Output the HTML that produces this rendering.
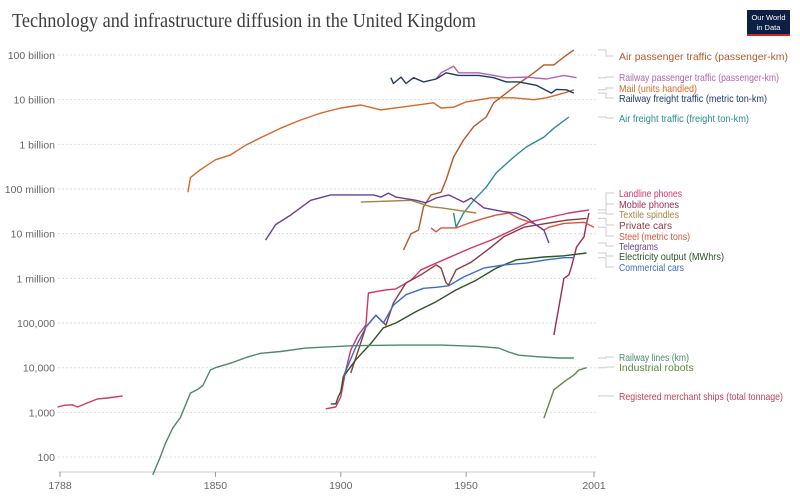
<!DOCTYPE html>
<html><head><meta charset="utf-8"><style>
body{margin:0;background:#fff;}
svg{display:block;font-family:"Liberation Sans",sans-serif;}
</style></head><body>
<svg id="chart" width="800" height="499" xmlns="http://www.w3.org/2000/svg">
<text x="12" y="27" font-family="Liberation Serif,serif" font-size="19.5" fill="#3d3d3d" textLength="464" lengthAdjust="spacingAndGlyphs">Technology and infrastructure diffusion in the United Kingdom</text>
<g><rect x="747" y="10" width="43" height="24" fill="#0c2046"/><rect x="747" y="34" width="43" height="2" fill="#ce261e"/>
<text x="768.5" y="20" font-size="7.5" fill="#fff" text-anchor="middle">Our World</text><text x="768.5" y="30" font-size="7.5" fill="#fff" text-anchor="middle">in Data</text></g>
<g id="grid"></g><g id="series"></g><g id="labels"></g>
</svg>
<script>
const yTickValues=[1e11,1e10,1e9,1e8,1e7,1e6,1e5,1e4,1e3,1e2];
const yTickLabels=["100 billion","10 billion","1 billion","100 million","10 million","1 million","100,000","10,000","1,000","100"];
const xTickYears=[1788,1850,1900,1950,2001];

const airPassYears=[1925,1928,1931,1933,1936,1940,1942,1945,1949,1953,1958,1961,1966,1971,1977,1981,1985,1989,1993];
const airPassValues=[4.3e6,1e7,1.2e7,4e7,7.4e7,8.5e7,1.6e8,5.2e8,1.26e9,2.5e9,4.1e9,8.5e9,1.4e10,2.3e10,4e10,6e10,6e10,9e10,1.3e11];
const railPassYears=[1938,1940,1945,1947,1955,1966,1974,1982,1989,1994];
const railPassValues=[2.9e10,4e10,5.6e10,4e10,4e10,3.1e10,3.2e10,2.9e10,3.5e10,3.1e10];
const mailYears=[1839,1840,1844,1850,1856,1862,1868,1876,1884,1892,1900,1908,1916,1926,1937,1940,1945,1950,1960,1969,1977,1982,1989,1993];
const mailValues=[8.5e7,1.8e8,2.7e8,4.5e8,5.8e8,9.5e8,1.4e9,2.3e9,3.5e9,5e9,6.5e9,7.6e9,5.9e9,7e9,8.5e9,6.5e9,6.8e9,8.9e9,1.1e10,1.1e10,1e10,1.1e10,1.4e10,1.66e10];
const railFreightYears=[1920,1921,1924,1926,1929,1933,1938,1942,1947,1955,1961,1966,1971,1978,1984,1986,1990,1993];
const railFreightValues=[3.1e10,2.3e10,3.2e10,2.3e10,3.1e10,2.5e10,2.9e10,4e10,3.5e10,3.5e10,3.1e10,2.5e10,2.5e10,2.1e10,1.4e10,1.7e10,1.66e10,1.4e10];
const airFreightYears=[1945,1946,1949,1953,1958,1962,1969,1974,1981,1985,1991];
const airFreightValues=[2.9e7,1.4e7,2.9e7,5.6e7,1.1e8,2.3e8,5.2e8,8.7e8,1.45e9,2.3e9,4.1e9];
const landlineYears=[1894,1898,1900,1902,1904,1907,1910,1911,1918,1922,1928,1932,1938,1943,1952,1960,1967,1975,1983,1991,1999];
const landlineValues=[1200,1320,2240,8900,2.5e4,5.4e4,9e4,4.7e5,5.5e5,5.8e5,9.1e5,1.55e6,2.2e6,2.9e6,4.8e6,7.2e6,1.1e7,1.8e7,2.3e7,2.9e7,3.4e7];
const mobileYears=[1985,1987,1989,1991,1992,1994,1997,1998,1999];
const mobileValues=[5.4e4,2.3e5,1e6,1.2e6,1.8e6,5e6,8.5e6,1.7e7,2.9e7];
const textileYears=[1908,1928,1936,1940,1954];
const textileValues=[5.1e7,5.6e7,4e7,3.8e7,2.9e7];
const privateCarsYears=[1904,1910,1914,1918,1921,1926,1932,1938,1940,1942,1943,1946,1952,1960,1965,1973,1982,1990,1998];
const privateCarsValues=[7.6e3,8.1e4,1.5e5,9e4,2.8e5,7.9e5,1.2e6,2e6,1.7e6,7.9e5,7.1e5,1.55e6,2.3e6,5e6,8.5e6,1.4e7,1.7e7,2e7,2.2e7];
const steelYears=[1936,1938,1940,1946,1952,1957,1962,1967,1971,1977,1981,1983,1989,1997,2001];
const steelValues=[1.35e7,1.1e7,1.35e7,1.35e7,1.8e7,2.2e7,2.6e7,2.9e7,2.2e7,1.7e7,1.2e7,1.4e7,1.7e7,1.8e7,1.4e7];
const telegramYears=[1870,1874,1880,1888,1896,1913,1916,1919,1922,1930,1934,1938,1943,1949,1952,1957,1965,1970,1974,1978,1981,1983];
const telegramValues=[7.2e6,1.6e7,2.6e7,5.6e7,7.4e7,7.4e7,6.6e7,8.1e7,6.6e7,5.6e7,4.9e7,6.3e7,7.4e7,5.1e7,6.3e7,3.8e7,3.1e7,2.9e7,2.3e7,1.55e7,1.2e7,6.2e6];
const electricityYears=[1896,1898,1899,1900,1901,1906,1912,1917,1922,1930,1938,1946,1954,1962,1970,1981,1989,1998];
const electricityValues=[1550,1550,2240,2900,6300,1.5e4,3.5e4,7.8e4,1e5,1.8e5,3e5,5.5e5,9.1e5,1.7e6,2.6e6,3e6,3.2e6,3.7e6];
const commercialYears=[1901,1906,1910,1914,1917,1921,1926,1933,1938,1943,1949,1957,1965,1974,1982,1989,1993];
const commercialValues=[6300,2.9e4,8.1e4,1.5e5,1e5,2.5e5,4.3e5,6e5,6.3e5,6.8e5,1.07e6,1.7e6,2e6,2.2e6,2.6e6,2.9e6,2.9e6];
const railLinesYears=[1825,1828,1830,1833,1836,1840,1843,1845,1848,1850,1856,1863,1868,1876,1886,1905,1924,1940,1955,1963,1967,1971,1979,1987,1993];
const railLinesValues=[40,100,200,450,760,2700,3300,4000,8900,1e4,1.26e4,1.74e4,2.1e4,2.3e4,2.75e4,3.1e4,3.2e4,3.2e4,3e4,2.75e4,2.25e4,1.9e4,1.75e4,1.65e4,1.65e4];
const robotsYears=[1981,1985,1989,1993,1995,1998];
const robotsValues=[740,3200,4800,6900,8900,1e4];
const shipsYears=[1787,1790,1793,1795,1798,1803,1807,1813];
const shipsValues=[1320,1450,1480,1320,1550,2000,2100,2340];

const seriesNames=["air-passenger-traffic","railway-passenger-traffic","mail","railway-freight-traffic","air-freight-traffic","landline-phones","mobile-phones","textile-spindles","private-cars","steel","telegrams","electricity-output","commercial-cars","railway-lines","industrial-robots","registered-merchant-ships"];
const seriesLabels=["Air passenger traffic (passenger-km)","Railway passenger traffic (passenger-km)","Mail (units handled)","Railway freight traffic (metric ton-km)","Air freight traffic (freight ton-km)","Landline phones","Mobile phones","Textile spindles","Private cars","Steel (metric tons)","Telegrams","Electricity output (MWhrs)","Commercial cars","Railway lines (km)","Industrial robots","Registered merchant ships (total tonnage)"];
const seriesYears=[airPassYears,railPassYears,mailYears,railFreightYears,airFreightYears,landlineYears,mobileYears,textileYears,privateCarsYears,steelYears,telegramYears,electricityYears,commercialYears,railLinesYears,robotsYears,shipsYears];
const seriesValues=[airPassValues,railPassValues,mailValues,railFreightValues,airFreightValues,landlineValues,mobileValues,textileValues,privateCarsValues,steelValues,telegramValues,electricityValues,commercialValues,railLinesValues,robotsValues,shipsValues];
const colors=["#b05a2c","#b064b4","#d2692a","#1f3a66","#2a8b96","#d4336a","#9b2a5a","#a58546","#8b3b3f","#d8553b","#6a3f94","#2d5327","#3b6cc4","#4a8a6a","#5c8a3e","#c93d58"];
const labelY=[60,81,92,102,122,197,208,218,229,240,250,260,271,361,371,400];
const labelW=[169,160,78,148,130,63,60,60,53,71,39,105,65,70,75,164];

const NS="http://www.w3.org/2000/svg";
function xs(yr){return 60+(yr-1788)*(534/213);}
function ys(v){return 55+(11-Math.log10(v))*44.67;}
function mk(tag,attrs,parent){const e=document.createElementNS(NS,tag);for(const k in attrs)e.setAttribute(k,attrs[k]);parent.appendChild(e);return e;}
const grid=document.getElementById('grid'),ser=document.getElementById('series'),lab=document.getElementById('labels');
yTickValues.forEach((v,i)=>{
  const y=ys(v);
  const l=mk('line',{x1:58,x2:596,y1:y,y2:y,stroke:'#ddd','stroke-dasharray':'2,2'},grid);
  
  
  const t=mk('text',{x:55,y:y+4,'text-anchor':'end','font-size':'10.5',fill:'#666'},grid);
  t.textContent=yTickLabels[i];
  
  
});
const ax=mk('line',{x1:58,x2:596,y1:472,y2:472,stroke:'#ccc'},grid);


xTickYears.forEach(yr=>{
  const x=xs(yr);
  mk('line',{x1:x,x2:x,y1:472,y2:477,stroke:'#999'},grid);
  const t=mk('text',{x:x,y:489,'text-anchor':'middle','font-size':'10.5',fill:'#666'},grid);
  t.textContent=yr;
  
  
});
seriesNames.forEach((n,i)=>{
  const yrs=seriesYears[i],vals=seriesValues[i];
  const d=yrs.map((yr,j)=>(j?'L':'M')+xs(yr).toFixed(1)+' '+ys(vals[j]).toFixed(1)).join(' ');
  const p=mk('path',{d:d,fill:'none',stroke:colors[i],'stroke-width':1.4,'stroke-linejoin':'round'},ser);
  
  
  const ey=ys(vals[vals.length-1]),ly=labelY[i];
  const c=mk('path',{d:`M598 ${ey.toFixed(1)} H606 V${ly-4} H614`,fill:'none',stroke:'#ccc','stroke-width':1},lab);
  
  
  const t=mk('text',{x:619,y:ly,'font-size':'10.5',fill:colors[i]},lab);
  t.textContent=seriesLabels[i];
  
  
  const w=t.getComputedTextLength();
  if(w>labelW[i]){t.setAttribute('textLength',labelW[i]);t.setAttribute('lengthAdjust','spacingAndGlyphs');}
});
</script>
</body></html>
